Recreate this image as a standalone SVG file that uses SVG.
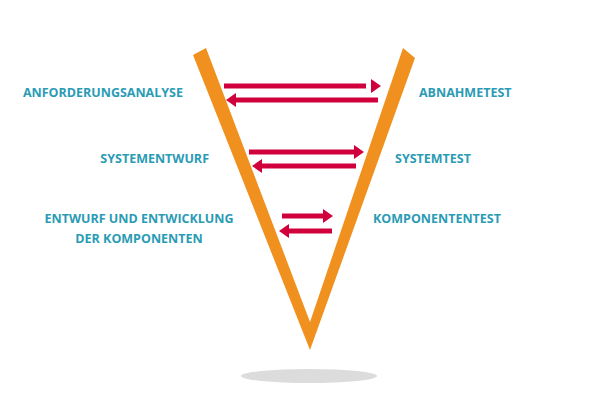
<svg xmlns="http://www.w3.org/2000/svg" width="600" height="400" viewBox="0 0 600 400">
<style>
text{font-family:"Open Sans","Liberation Sans",sans-serif;font-weight:bold;font-size:12.5px;fill:#2a9bb5}
.a{stroke:#d0003c;stroke-width:5}
.h{fill:#d0003c}
</style>
<rect width="600" height="400" fill="#fff"/>
<ellipse cx="309" cy="376" rx="68" ry="7" fill="#dcdcdc"/>
<g id="v"><polygon points="193,55,206,48,310,322,403,48,415,58,310,350" fill="#f0901e"/></g>
<g id="connectors">
<line class="a" x1="224" y1="86" x2="366" y2="86"/><polygon class="h" points="371,79,381,86,371,93"/>
<line class="a" x1="234" y1="100" x2="378" y2="100"/><polygon class="h" points="236,93,226,100,236,107"/>
<line class="a" x1="249" y1="152" x2="356" y2="152"/><polygon class="h" points="354,145,364,152,354,159"/>
<line class="a" x1="260" y1="166" x2="356" y2="166"/><polygon class="h" points="262,159,252,166,262,173"/>
<line class="a" x1="282" y1="216" x2="325" y2="216"/><polygon class="h" points="323,209,333,216,323,223"/>
<line class="a" x1="287" y1="231" x2="332" y2="231"/><polygon class="h" points="289,224,279,231,289,238"/>
</g>
<g id="n1"><text x="183" y="97" text-anchor="end">ANFORDERUNGSANALYSE</text></g>
<g id="n2"><text x="419" y="97">ABNAHMETEST</text></g>
<g id="n3"><text x="209" y="163" text-anchor="end">SYSTEMENTWURF</text></g>
<g id="n4"><text x="395" y="163">SYSTEMTEST</text></g>
<g id="n5"><text x="139" y="223" text-anchor="middle">ENTWURF UND ENTWICKLUNG</text><text x="139" y="243" text-anchor="middle">DER KOMPONENTEN</text></g>
<g id="n6"><text x="373" y="223">KOMPONENTENTEST</text></g>
</svg>
